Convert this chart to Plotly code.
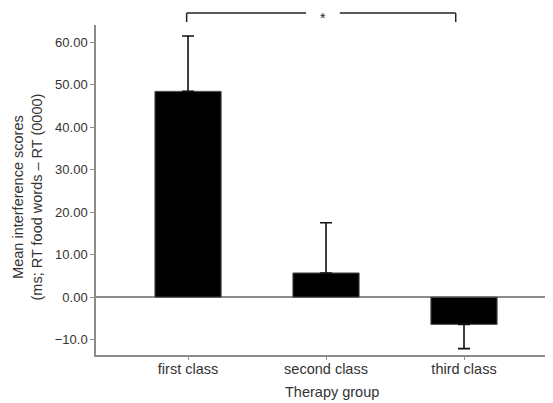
import plotly.graph_objects as go

categories = ["first class", "second class", "third class"]
means = [48.4, 5.7, -6.4]
err_plus = [13.0, 11.8, 0.0]
err_minus = [0.0, 0.0, 5.7]
tick_vals = [-10, 0, 10, 20, 30, 40, 50, 60]
tick_text = ["\u221210.0", "0.00", "10.00", "20.00", "30.00", "40.00", "50.00", "60.00"]

axis_col = "#8c8c8c"
font_col = "#333333"

fig = go.Figure()
fig.add_trace(go.Bar(
    x=[0, 1, 2], y=means, width=0.48,
    marker=dict(color="black", line=dict(color="#555555", width=1)),
    error_y=dict(type="data", symmetric=False, array=err_plus, arrayminus=err_minus,
                 color="#111111", thickness=1.6, width=6),
))

fig.update_layout(
    width=545, height=395,
    margin=dict(l=88, r=0, t=17, b=48),
    plot_bgcolor="white", paper_bgcolor="white",
    showlegend=False,
    font=dict(family="Liberation Sans, Arial", size=13, color=font_col),
    xaxis=dict(
        range=[-0.667, 2.645],
        tickvals=[0, 1, 2], ticktext=categories,
        showline=True, linecolor=axis_col, linewidth=1.5,
        ticks="outside", ticklen=3, tickcolor=axis_col,
        showgrid=False, zeroline=False, automargin=False,
        ticklabelstandoff=-3,
        tickfont=dict(size=14.5, color=font_col),
    ),
    yaxis=dict(
        range=[-13.6, 64.0],
        tickvals=tick_vals, ticktext=tick_text,
        showline=True, linecolor=axis_col, linewidth=1.5,
        ticks="outside", ticklen=4, tickcolor=axis_col,
        showgrid=False, automargin=False,
        zeroline=True, zerolinecolor=axis_col, zerolinewidth=1.5,
        tickfont=dict(size=13, color=font_col),
        title=None,
    ),
)

# X-axis title
fig.add_annotation(xref="paper", yref="paper", x=0.516, y=-0.112, xanchor="center", yanchor="middle",
                   text="Therapy group", showarrow=False, font=dict(size=14.5, color=font_col))

# Y-axis title as two lines
fig.add_annotation(xref="paper", yref="paper", x=-0.149, y=0.48, xanchor="center", yanchor="middle",
                   text="Mean interference scores<br>(ms; RT food words \u2013 RT (0000)",
                   textangle=-90, showarrow=False, font=dict(size=14.5, color=font_col))

# Significance bracket
bl, br = -0.01, 1.94
ytop, ybot = 1.036, 1.009
line_style = dict(color="#222222", width=1.5)
fig.add_shape(type="line", xref="x", yref="paper", x0=bl, x1=bl, y0=ybot, y1=ytop, line=line_style)
fig.add_shape(type="line", xref="x", yref="paper", x0=br, x1=br, y0=ybot, y1=ytop, line=line_style)
fig.add_shape(type="line", xref="x", yref="paper", x0=bl, x1=0.855, y0=ytop, y1=ytop, line=line_style)
fig.add_shape(type="line", xref="x", yref="paper", x0=1.1, x1=br, y0=ytop, y1=ytop, line=line_style)
fig.add_annotation(xref="x", yref="paper", x=0.98, y=1.049, text="*", showarrow=False,
                   yanchor="top", borderpad=0, font=dict(size=14, color="#222222"))

fig.write_html("out.html")
